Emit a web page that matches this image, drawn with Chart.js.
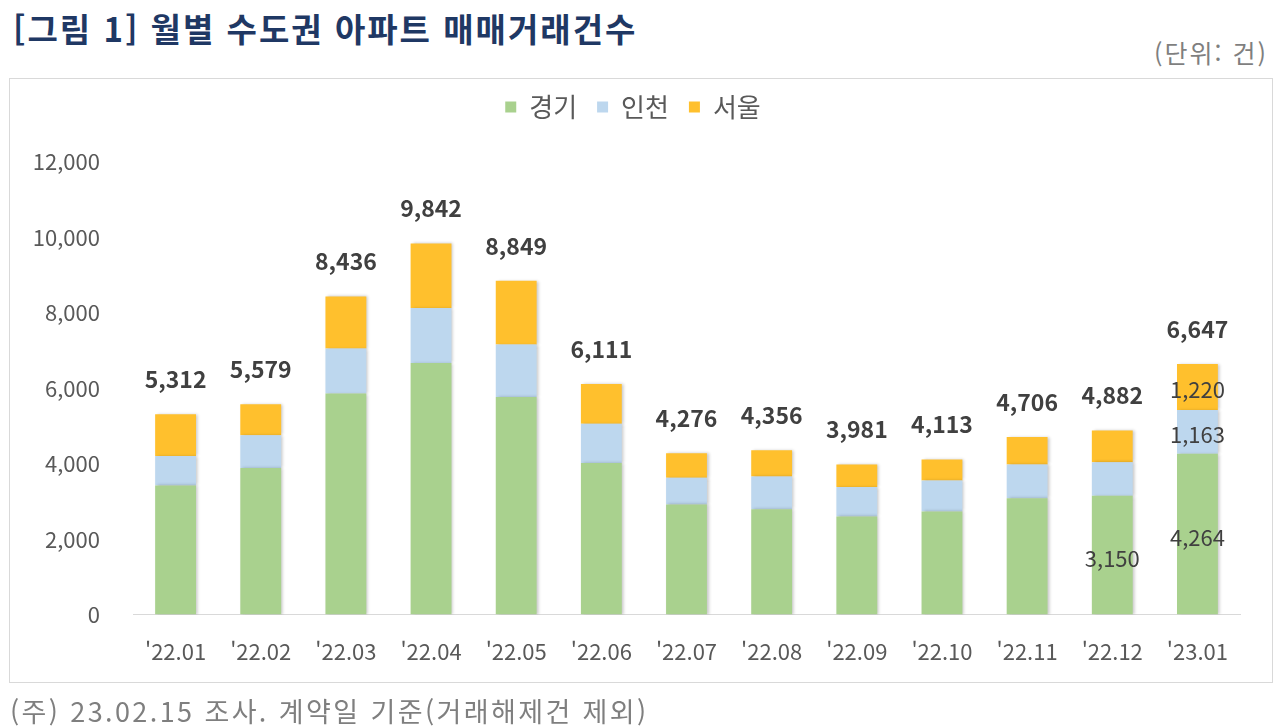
<!DOCTYPE html>
<html lang="ko">
<head>
<meta charset="utf-8">
<script src="https://cdn.jsdelivr.net/npm/chart.js@4.4.1/dist/chart.umd.min.js"></script>
<style>
  body { margin: 0; background: #fff; font-family: "Noto Sans CJK KR", "Noto Sans", sans-serif; }
  #wrap { position: relative; width: 1280px; height: 728px; overflow: hidden; }
  #title { position: absolute; left: 13px; top: 4px; font-size: 33px; letter-spacing: 2px; font-weight: bold; color: #1F3864; white-space: nowrap; }
  #unit { position: absolute; right: 12px; top: 34px; font-size: 25px; letter-spacing: 2px; color: #7F7F7F; }
  #box { position: absolute; left: 9px; top: 78px; width: 1262px; height: 603px; border: 1px solid #D9D9D9; }
  #note { position: absolute; left: 10px; top: 691px; font-size: 27px; letter-spacing: 2.4px; color: #7F7F7F; white-space: nowrap; }
  #chart { position: absolute; left: 0; top: 0; }
</style>
</head>
<body>
<div id="wrap">
  <div id="title">[그림 1] 월별 수도권 아파트 매매거래건수</div>
  <div id="unit">(단위: 건)</div>
  <div id="box"></div>
  <canvas id="chart" width="1280" height="728"></canvas>
  <div id="note">(주) 23.02.15 조사. 계약일 기준(거래해제건 제외)</div>
</div>
<script>
const months = ["'22.01", "'22.02", "'22.03", "'22.04", "'22.05", "'22.06", "'22.07", "'22.08", "'22.09", "'22.10", "'22.11", "'22.12", "'23.01"]
const gyeonggi = [3425, 3884, 5859, 6671, 5769, 4017, 2920, 2796, 2602, 2734, 3088, 3150, 4264]
const incheon = [777, 868, 1194, 1460, 1390, 1045, 709, 867, 778, 823, 894, 892, 1163]
const seoul = [1110, 827, 1383, 1711, 1690, 1049, 647, 693, 601, 556, 724, 840, 1220]
const totals = [5312, 5579, 8436, 9842, 8849, 6111, 4276, 4356, 3981, 4113, 4706, 4882, 6647]
const yTicks = [0, 2000, 4000, 6000, 8000, 10000, 12000]

// which segments get their own value label (dataset index -> month indexes)
const segLabels = { 0: [11, 12], 1: [12], 2: [12] }

const fmt = v => v.toLocaleString('en-US')

const legendSpace = {
  id: 'legendSpace',
  beforeInit(chart) {
    const fit = chart.legend.fit
    chart.legend.fit = function () {
      fit.bind(chart.legend)()
      this.height += 32
    }
  }
}

const barShadow = {
  id: 'barShadow',
  beforeDatasetsDraw(chart) {
    const c = chart.ctx
    c.save()
    c.shadowColor = 'rgba(0,0,0,0.22)'
    c.shadowBlur = 3
    c.shadowOffsetX = 2
    c.shadowOffsetY = 0
  },
  afterDatasetsDraw(chart) {
    chart.ctx.restore()
  }
}

const valueLabels = {
  id: 'valueLabels',
  afterDraw(chart) {
    const c = chart.ctx
    c.save()
    c.textAlign = 'center'
    c.textBaseline = 'middle'
    c.fillStyle = '#404040'
    // totals above bars
    c.font = 'bold 23px "Noto Sans CJK KR", sans-serif'
    const topMeta = chart.getDatasetMeta(2)
    topMeta.data.forEach((bar, i) => {
      c.fillText(fmt(totals[i]), bar.x, bar.y - 35)
    })
    // segment values
    c.font = '22px "Noto Sans CJK KR", sans-serif'
    Object.keys(segLabels).forEach(di => {
      const meta = chart.getDatasetMeta(+di)
      const vals = chart.data.datasets[di].data
      segLabels[di].forEach(i => {
        const bar = meta.data[i]
        c.fillText(fmt(vals[i]), bar.x, (bar.y + bar.base) / 2 + 3)
      })
    })
    c.restore()
  }
}

new Chart(document.getElementById('chart'), {
  type: 'bar',
  data: {
    labels: months,
    datasets: [
      { label: '경기', data: gyeonggi, backgroundColor: '#A9D18E' },
      { label: '인천', data: incheon, backgroundColor: '#BDD7EE' },
      { label: '서울', data: seoul, backgroundColor: '#FFC02D' }
    ]
  },
  options: {
    responsive: false,
    animation: false,
    layout: { padding: { left: 26, right: 40, top: 74, bottom: 47 } },
    datasets: { bar: { categoryPercentage: 1, barPercentage: 0.48 } },
    plugins: {
      legend: {
        position: 'top',
        labels: {
          boxWidth: 11,
          boxHeight: 11,
          padding: 20,
          color: '#595959',
          font: { size: 26, family: '"Noto Sans CJK KR", sans-serif' }
        }
      },
      tooltip: { enabled: false }
    },
    scales: {
      x: {
        stacked: true,
        grid: { display: false },
        border: { display: true, color: '#D9D9D9', width: 1 },
        ticks: { color: '#595959', padding: 16, font: { size: 22, family: '"Noto Sans CJK KR", sans-serif' } }
      },
      y: {
        stacked: true,
        min: 0,
        max: 12000,
        afterBuildTicks(axis) { axis.ticks = yTicks.map(v => ({ value: v })) },
        afterFit(axis) { axis.width = 107 },
        grid: { display: false, drawTicks: false },
        border: { display: false },
        ticks: {
          color: '#595959',
          padding: 33,
          font: { size: 22, family: '"Noto Sans CJK KR", sans-serif' },
          callback: v => fmt(v)
        }
      }
    }
  },
  plugins: [legendSpace, barShadow, valueLabels]
})
</script>
</body>
</html>
